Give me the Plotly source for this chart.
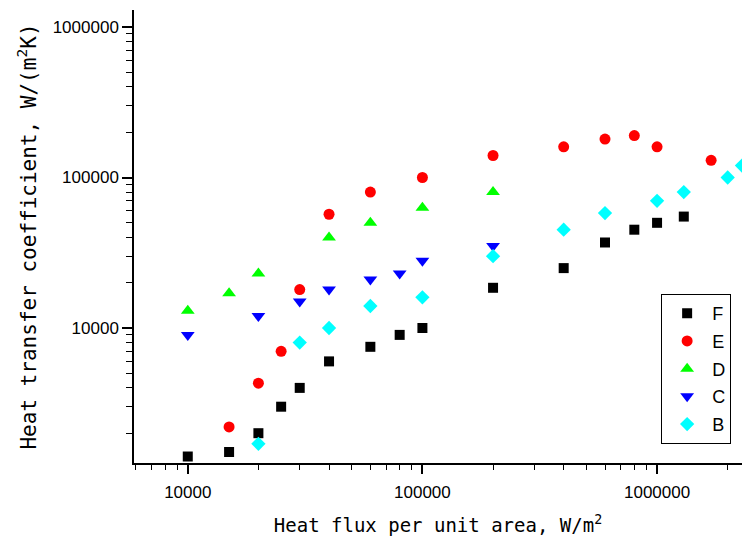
import math
import plotly.graph_objects as go

# ---- data ----
F_x = [10000, 15000, 20000, 25000, 30000, 40000, 60000, 80000, 100000, 200000, 400000, 600000, 800000, 1000000, 1300000]
F_y = [1400, 1500, 2000, 3000, 4000, 6000, 7500, 9000, 10000, 18500, 25000, 37000, 45000, 50000, 55000]

E_x = [15000, 20000, 25000, 30000, 40000, 60000, 100000, 200000, 400000, 600000, 800000, 1000000, 1700000]
E_y = [2200, 4300, 7000, 18000, 57000, 80000, 100000, 140000, 160000, 180000, 190000, 160000, 130000]

D_x = [10000, 15000, 20000, 40000, 60000, 100000, 200000]
D_y = [13000, 17000, 23000, 40000, 50000, 63000, 80000]

C_x = [10000, 20000, 30000, 40000, 60000, 80000, 100000, 200000]
C_y = [9000, 12000, 15000, 18000, 21000, 23000, 28000, 35000]

B_x = [20000, 30000, 40000, 60000, 100000, 200000, 400000, 600000, 1000000, 1300000, 2000000, 2300000]
B_y = [1700, 8000, 10000, 14000, 16000, 30000, 45000, 58000, 70000, 80000, 100000, 120000]

x_ticks = [10000, 100000, 1000000]
x_ticktext = ["10000", "100000", "1000000"]
y_ticks = [10000, 100000, 1000000]
y_ticktext = ["10000", "100000", "1000000"]

x_title = "Heat flux per unit area, W/m<sup>2</sup>"
y_title = "Heat transfer coefficient, W/(m<sup>2</sup>K)"

FONT = "Liberation Sans, Arial, sans-serif"
TITLE_FONT = "DejaVu Sans Mono, monospace"

series = [
    ("F", F_x, F_y, "square", "#000000", 10),
    ("E", E_x, E_y, "circle", "#ff0000", 11),
    ("D", D_x, D_y, "triangle-up", "#00ff00", 12),
    ("C", C_x, C_y, "triangle-down", "#0000ff", 12),
    ("B", B_x, B_y, "diamond", "#00ffff", 11),
]

fig = go.Figure()
for name, xs, ys, sym, col, sz in series:
    fig.add_trace(go.Scatter(
        x=xs, y=ys, mode="markers", name=name, legendgroup=name,
        marker=dict(symbol=sym, color=col, size=sz, line=dict(width=0)),
        cliponaxis=True,
    ))

def minors(lo, hi):
    vals = []
    for e in range(lo, hi + 1):
        for d in range(2, 10):
            vals.append(d * 10 ** e)
    return vals

fig.update_layout(
    width=742, height=538,
    margin=dict(l=134, r=0, t=10, b=75),
    paper_bgcolor="white", plot_bgcolor="white",
    font=dict(family=FONT, size=17, color="black"),
    showlegend=True,
    legend=dict(
        x=0.867, y=0.373, xanchor="left", yanchor="top",
        bordercolor="black", borderwidth=1, bgcolor="white",
        font=dict(family=FONT, size=18, color="black"),
        tracegroupgap=1.3, itemwidth=40, traceorder="grouped",
    ),
    xaxis=dict(
        type="log", range=[math.log10(5900), 6.362],
        showgrid=False, zeroline=False,
        showline=True, linecolor="black", linewidth=1.5, mirror=False,
        ticks="outside", ticklen=9, tickwidth=1.5, tickcolor="black",
        tickvals=x_ticks, ticktext=x_ticktext,
        tickfont=dict(family=FONT, size=17, color="black"),
        ticklabelstandoff=4,
        minor=dict(ticks="outside", ticklen=5, tickwidth=1.2, tickcolor="black",
                   tickvals=minors(3, 6), showgrid=False),
        title=dict(text=x_title, font=dict(family=TITLE_FONT, size=19, color="black"), standoff=18),
    ),
    yaxis=dict(
        type="log", range=[3.103, 6.113],
        showgrid=False, zeroline=False,
        showline=True, linecolor="black", linewidth=1.5, mirror=False,
        ticks="outside", ticklen=10, tickwidth=1.5, tickcolor="black",
        tickvals=y_ticks, ticktext=y_ticktext,
        tickfont=dict(family=FONT, size=17, color="black"),
        minor=dict(ticks="outside", ticklen=6, tickwidth=1.2, tickcolor="black",
                   tickvals=minors(3, 6), showgrid=False),
        title=dict(text=y_title, font=dict(family=TITLE_FONT, size=21, color="black"), standoff=10),
    ),
)

fig.write_html(
    "out.html",
    config={"displayModeBar": False},
    post_script="document.body.style.margin='0';document.body.style.overflow='hidden';",
)
